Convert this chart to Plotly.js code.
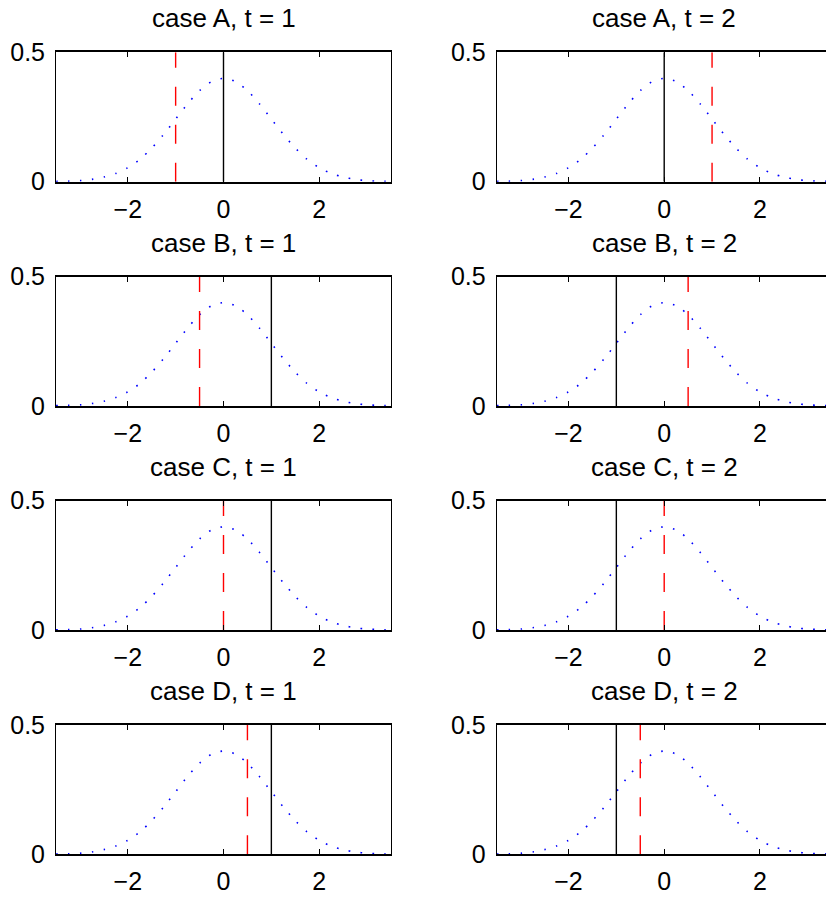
<!DOCTYPE html>
<html>
<head>
<meta charset="utf-8">
<script src="https://cdn.plot.ly/plotly-3.0.1.min.js"></script>
<style>
html, body { margin: 0; padding: 0; overflow: hidden; background: #fff; }
#chart { width: 840px; height: 899px; }
</style>
</head>
<body>
<div id="chart"></div>
<script>
// ---- data ----
const cases = ['A', 'B', 'C', 'D'];
const times = [1, 2];
const xVals = [-3.5, -3.25, -3, -2.75, -2.5, -2.25, -2, -1.75, -1.5, -1.25, -1, -0.75, -0.5, -0.25,
  0, 0.25, 0.5, 0.75, 1, 1.25, 1.5, 1.75, 2, 2.25, 2.5, 2.75, 3, 3.25, 3.5];
const densityVals = [0.001, 0.002, 0.004, 0.009, 0.018, 0.032, 0.054, 0.086, 0.130, 0.183, 0.242, 0.301, 0.352, 0.387,
  0.399, 0.387, 0.352, 0.301, 0.242, 0.183, 0.130, 0.086, 0.054, 0.032, 0.018, 0.009, 0.004, 0.002, 0.001];
// panel order: A t=1, A t=2, B t=1, B t=2, C t=1, C t=2, D t=1, D t=2
const blackPos = [0, 0, 1, -1, 1, -1, 1, -1];
const redPos = [-1, 1, -0.5, 0.5, 0, 0, 0.5, -0.5];
const xTicks = [-2, 0, 2];
const yTicks = [0, 0.5];
const lineTop = 0.5;

// ---- layout geometry (pixels) ----
const W = 840, H = 899;
const colLeft = [56, 496.7];
const panelW = 335;
const rowTop0 = 52.3, rowStep = 224.2, panelH = 129.4;

const font = 'Liberation Sans, Arial, Helvetica, sans-serif';
const traces = [];
const layout = {
  width: W, height: H,
  margin: {l: 0, r: 0, t: 0, b: 0},
  paper_bgcolor: '#fff', plot_bgcolor: '#fff',
  showlegend: false,
  font: {family: font, size: 25, color: '#000'},
  annotations: []
};

for (let i = 0; i < 8; i++) {
  const r = Math.floor(i / 2), c = i % 2;
  const sfx = i === 0 ? '' : String(i + 1);
  const xa = 'x' + sfx, ya = 'y' + sfx;
  const top = rowTop0 + r * rowStep;
  const bot = top + panelH;
  layout['xaxis' + sfx] = {
    domain: [colLeft[c] / W, (colLeft[c] + panelW) / W],
    anchor: ya, range: [-3.5, 3.5], autorange: false,
    tickvals: xTicks, ticktext: xTicks.map(v => v < 0 ? '\u2212' + Math.abs(v) : String(v)),
    ticks: 'inside', ticklen: 5, tickwidth: 1, tickcolor: '#000',
    showline: true, linecolor: '#000', linewidth: 2, mirror: 'ticks',
    showgrid: false, zeroline: false, fixedrange: true,
    tickfont: {family: font, size: 25, color: '#000'},
    ticklabelstandoff: 4
  };
  layout['yaxis' + sfx] = {
    domain: [1 - bot / H, 1 - top / H],
    anchor: xa, range: [0, 0.5], autorange: false,
    tickvals: yTicks, ticktext: ['0', '0.5'],
    ticks: 'inside', ticklen: 5, tickwidth: 1, tickcolor: '#000',
    showline: true, linecolor: '#000', linewidth: 1, mirror: 'ticks',
    showgrid: false, zeroline: false, fixedrange: true,
    tickfont: {family: font, size: 25, color: '#000'},
    ticklabelstandoff: 5
  };
  traces.push({
    type: 'scatter', mode: 'lines', x: xVals, y: densityVals, xaxis: xa, yaxis: ya,
    line: {color: '#0000ff', width: 1.6, dash: '1.6px,10.4px', shape: 'spline', smoothing: 0.8},
    hoverinfo: 'skip', cliponaxis: false
  });
  traces.push({
    type: 'scatter', mode: 'lines', x: [blackPos[i], blackPos[i]], y: [0, lineTop], xaxis: xa, yaxis: ya,
    line: {color: '#000', width: 1.4}, hoverinfo: 'skip'
  });
  traces.push({
    type: 'scatter', mode: 'lines', x: [redPos[i], redPos[i]], y: [0, lineTop], xaxis: xa, yaxis: ya,
    line: {color: '#ff0000', width: 1.4, dash: '19px,19px'}, hoverinfo: 'skip'
  });
  layout.annotations.push({
    text: 'case ' + cases[r] + ', t = ' + times[c],
    xref: xa + ' domain', yref: ya + ' domain', x: 0.5, y: 1,
    xanchor: 'center', yanchor: 'bottom', yshift: 17, showarrow: false,
    font: {family: font, size: 26, color: '#000'}
  });
}

Plotly.newPlot('chart', traces, layout, {staticPlot: true, displayModeBar: false});
</script>
</body>
</html>
